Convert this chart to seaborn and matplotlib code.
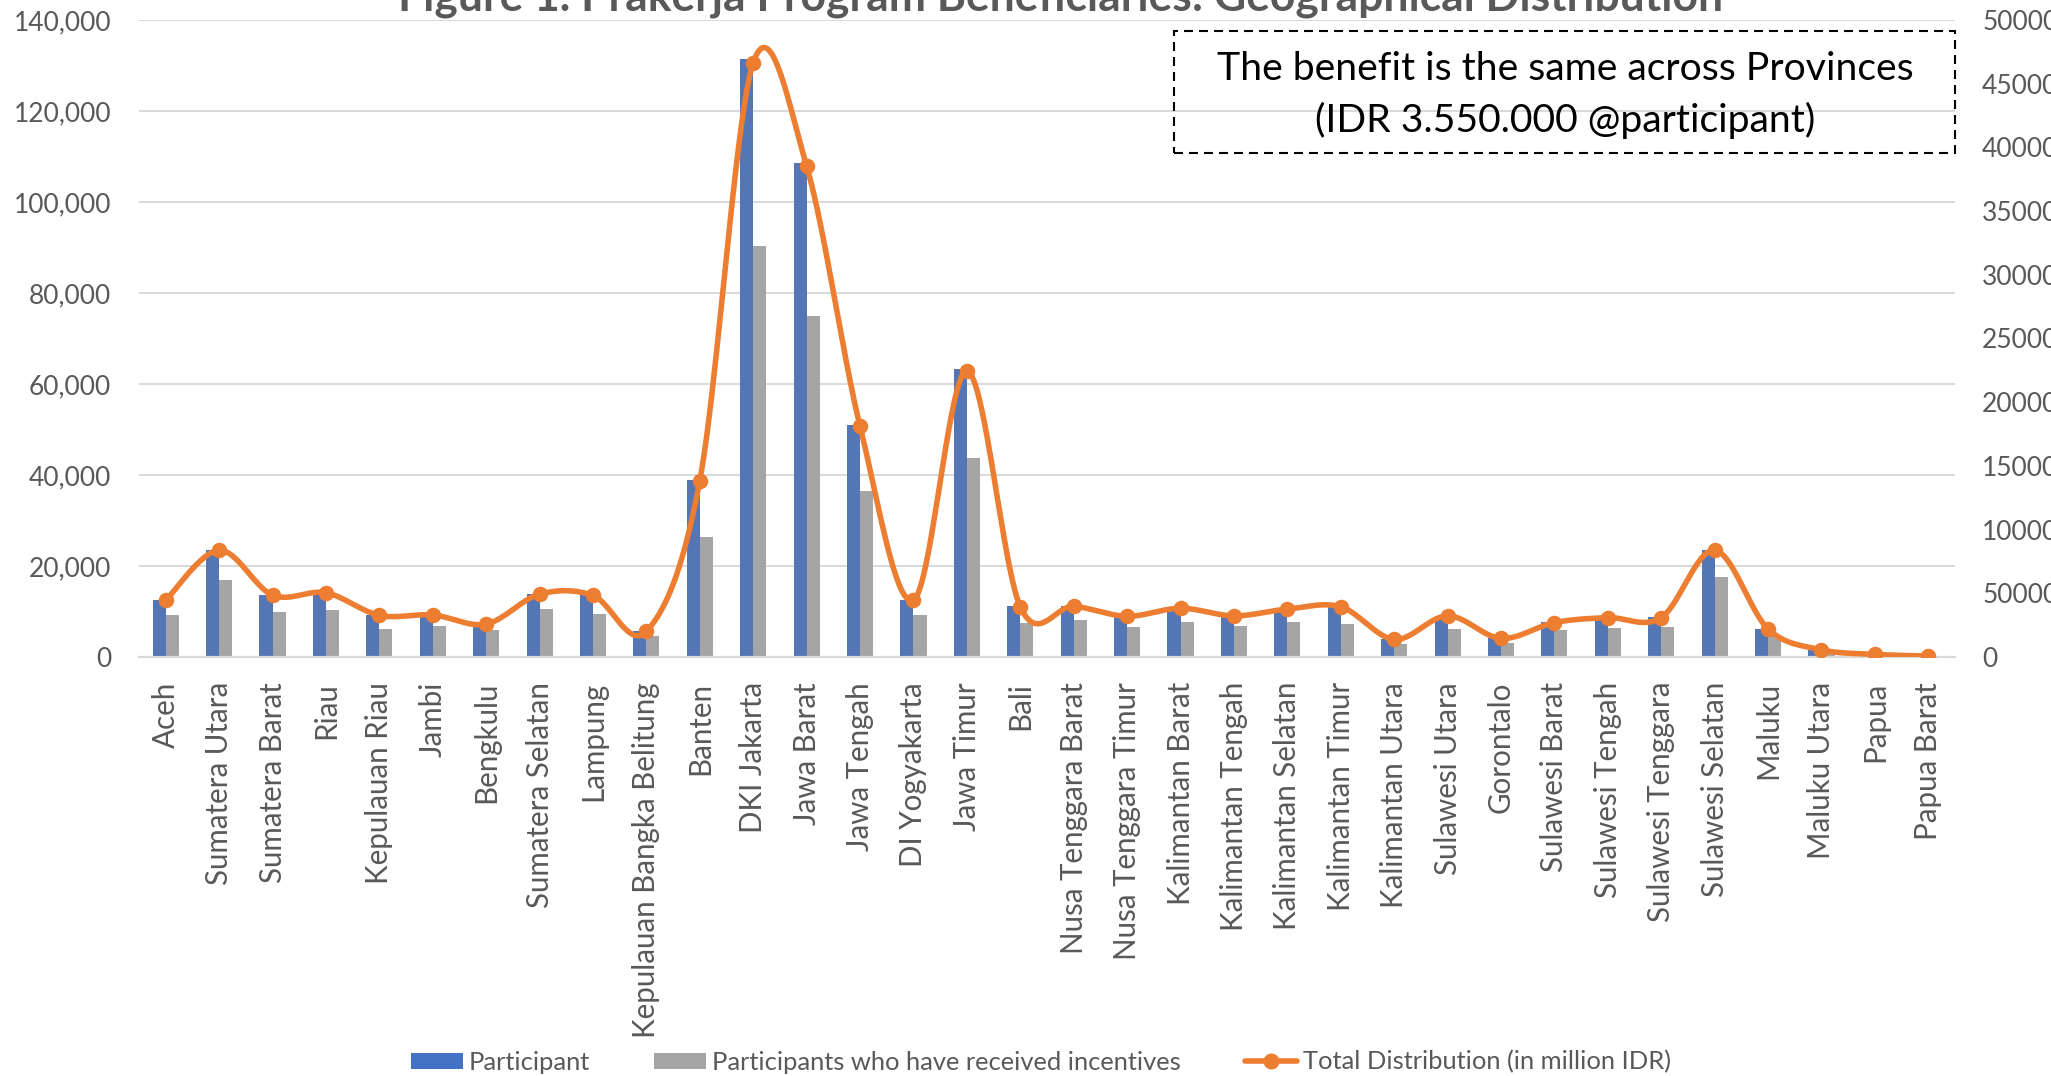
import numpy as np
import pandas as pd
import matplotlib
matplotlib.use("Agg")
import matplotlib.pyplot as plt
from matplotlib.patches import Rectangle
from matplotlib.lines import Line2D
from matplotlib.ticker import FuncFormatter, MultipleLocator
import seaborn as sns

# ---------------- data ----------------
provinces = [
    "Aceh", "Sumatera Utara", "Sumatera Barat", "Riau", "Kepulauan Riau",
    "Jambi", "Bengkulu", "Sumatera Selatan", "Lampung",
    "Kepulauan Bangka Belitung", "Banten", "DKI Jakarta", "Jawa Barat",
    "Jawa Tengah", "DI Yogyakarta", "Jawa Timur", "Bali",
    "Nusa Tenggara Barat", "Nusa Tenggara Timur", "Kalimantan Barat",
    "Kalimantan Tengah", "Kalimantan Selatan", "Kalimantan Timur",
    "Kalimantan Utara", "Sulawesi Utara", "Gorontalo", "Sulawesi Barat",
    "Sulawesi Tengah", "Sulawesi Tenggara", "Sulawesi Selatan", "Maluku",
    "Maluku Utara", "Papua", "Papua Barat",
]
participants = [
    12500, 23600, 13700, 14200, 9200, 9300, 7300, 13900, 13600, 5700,
    39000, 131400, 108500, 51000, 12600, 63200, 11100, 11200, 9000, 10800,
    9100, 10600, 11100, 3900, 9100, 4100, 7600, 8700, 8700, 23600,
    6200, 1600, 600, 200,
]
received_incentives = [
    9200, 16900, 9850, 10400, 6200, 6800, 5900, 10500, 9500, 4700,
    26300, 90400, 75000, 36400, 9200, 43700, 7500, 8100, 6500, 7600,
    6900, 7800, 7300, 2800, 6100, 3000, 6000, 6400, 6500, 17600,
    4700, 600, 200, 100,
]
total_distribution = [  # million IDR
    44400, 83800, 48600, 50400, 32700, 33000, 25900, 49300, 48300, 20200,
    138500, 466500, 385200, 181100, 44700, 224400, 39400, 39800, 32000, 38300,
    32300, 37600, 39400, 13800, 32300, 14600, 27000, 30900, 30900, 83800,
    22000, 5700, 2100, 700,
]
series_names = ["Participant", "Participants who have received incentives"]
line_name = "Total Distribution (in million IDR)"
title = "Figure 1. Prakerja Program Beneficiaries: Geographical Distribution"
note_lines = ["The benefit is the same across Provinces", "(IDR 3.550.000 @participant)"]

# ---------------- style ----------------
BLUE, GREY, ORANGE = "#4472C4", "#A5A5A5", "#ED7D31"
GRID, TXT = "#D9D9D9", "#595959"
sns.set_theme(style="white")
FONT = ["Lato", "DejaVu Sans"]
plt.rcParams["font.family"] = FONT

W, H = 2051, 1076
fig = plt.figure(figsize=(W / 100, H / 100), dpi=100)
renderer = fig.canvas.get_renderer()


def fit_size(text, target_px, weight="normal", base=20.0):
    t = fig.text(0, 0, text, fontsize=base, fontweight=weight)
    w = t.get_window_extent(renderer).width
    t.remove()
    return base * target_px / w


fs_xtick = fit_size("Sumatera Utara", 203)
fs_ytick = fit_size("140,000", 98)
fs_leg = fit_size(line_name, 368)
fs_note = fit_size(note_lines[0], 697)
fs_title = fit_size(title, 1325, weight="bold")

L, R, T, B = 139, 1955, 20, 657
ax = fig.add_axes([L / W, 1 - B / H, (R - L) / W, (B - T) / H])

df = pd.DataFrame({
    "province": provinces * 2,
    "series": [series_names[0]] * len(provinces) + [series_names[1]] * len(provinces),
    "value": participants + received_incentives,
})
sns.barplot(data=df, x="province", y="value", hue="series", order=provinces,
            hue_order=series_names, palette=[BLUE, GREY], width=0.49, gap=0,
            linewidth=0, legend=False, ax=ax, zorder=2)

ax.set_xlim(-0.5, len(provinces) - 0.5)
ax.set_ylim(0, 140000)
ax.yaxis.set_major_locator(MultipleLocator(20000))
ax.yaxis.set_major_formatter(FuncFormatter(lambda v, p: f"{int(v):,}"))
ax.set_axisbelow(True)
ax.grid(axis="y", color=GRID, linewidth=1.4)
ax.grid(axis="x", visible=False)
for s in ["left", "right", "top"]:
    ax.spines[s].set_visible(False)
ax.spines["bottom"].set_color(GRID)
ax.spines["bottom"].set_linewidth(1.6)
ax.set_xlabel("")
ax.set_ylabel("")
ax.set_xticks(range(len(provinces)))
ax.set_xticklabels(provinces, rotation=90, ha="center", va="top")
ax.tick_params(axis="x", length=0, pad=18, labelsize=fs_xtick, labelcolor=TXT)
ax.tick_params(axis="y", length=0, pad=20, labelsize=fs_ytick, labelcolor=TXT)

# ---------------- secondary axis: smoothed line ----------------
ax2 = ax.twinx()
ax2.set_ylim(0, 500000)
ax2.yaxis.set_major_locator(MultipleLocator(50000))
ax2.yaxis.set_major_formatter(FuncFormatter(lambda v, p: f"{int(v)}"))
ax2.tick_params(axis="y", length=0, pad=19.5, labelsize=fs_ytick, labelcolor=TXT)
ax2.grid(False)
for s in ax2.spines.values():
    s.set_visible(False)

xs = np.arange(len(provinces), dtype=float)
ys = np.asarray(total_distribution, dtype=float)


def smooth_curve(x, y, n=40):
    pts = np.column_stack([x, y])
    out = []
    for i in range(len(pts) - 1):
        p0 = pts[i - 1] if i > 0 else pts[i]
        p1, p2 = pts[i], pts[i + 1]
        p3 = pts[i + 2] if i + 2 < len(pts) else pts[i + 1]
        c1 = p1 + (p2 - p0) / 6.0
        c2 = p2 - (p3 - p1) / 6.0
        t = np.linspace(0, 1, n)[:, None]
        seg = (1 - t) ** 3 * p1 + 3 * (1 - t) ** 2 * t * c1 + 3 * (1 - t) * t ** 2 * c2 + t ** 3 * p2
        out.append(seg if i == 0 else seg[1:])
    return np.vstack(out)


curve = smooth_curve(xs, ys)
ax2.plot(curve[:, 0], curve[:, 1], color=ORANGE, linewidth=4.0,
         solid_capstyle="round", solid_joinstyle="round", zorder=3)
sns.scatterplot(x=xs, y=ys, color=ORANGE, s=125, edgecolor=ORANGE,
                linewidth=0, ax=ax2, zorder=4, legend=False)
ax2.set_xlim(-0.5, len(provinces) - 0.5)

# ---------------- title (cut off at the top) ----------------
fig.text(1061 / W, 1 - 11 / H, title, ha="center", va="baseline",
         fontsize=fs_title, fontweight="bold", color=TXT)

# ---------------- dashed note box ----------------
bx0, by0, bx1, by1 = 1174, 31, 1955, 153
fig.patches.append(Rectangle((bx0 / W, 1 - by1 / H), (bx1 - bx0) / W, (by1 - by0) / H,
                             transform=fig.transFigure, fill=False,
                             edgecolor="black", linewidth=1.5,
                             linestyle=(0, (4.3, 2.9))))
fig.text(1565 / W, 1 - 80 / H, note_lines[0], ha="center", va="baseline",
         fontsize=fs_note, color="black")
fig.text(1565 / W, 1 - 132 / H, note_lines[1], ha="center", va="baseline",
         fontsize=fs_note, color="black")

# ---------------- legend ----------------
handles = [
    Rectangle((0, 0), 1, 1, facecolor=BLUE, edgecolor="none"),
    Rectangle((0, 0), 1, 1, facecolor=GREY, edgecolor="none"),
    Line2D([0], [0], color=ORANGE, linewidth=4.0, marker="o", markersize=10.5,
           markerfacecolor=ORANGE, markeredgecolor=ORANGE),
]
leg_px = fs_leg * 100 / 72
fig.legend(handles, series_names + [line_name], loc="center",
           bbox_to_anchor=(1041 / W, 1 - 1062 / H), ncol=3, frameon=False,
           fontsize=fs_leg, labelcolor=TXT, handlelength=52 / leg_px,
           handleheight=15 / leg_px, handletextpad=6 / leg_px,
           columnspacing=64 / leg_px, borderpad=0, borderaxespad=0)

fig.savefig("out.png", dpi=100)
